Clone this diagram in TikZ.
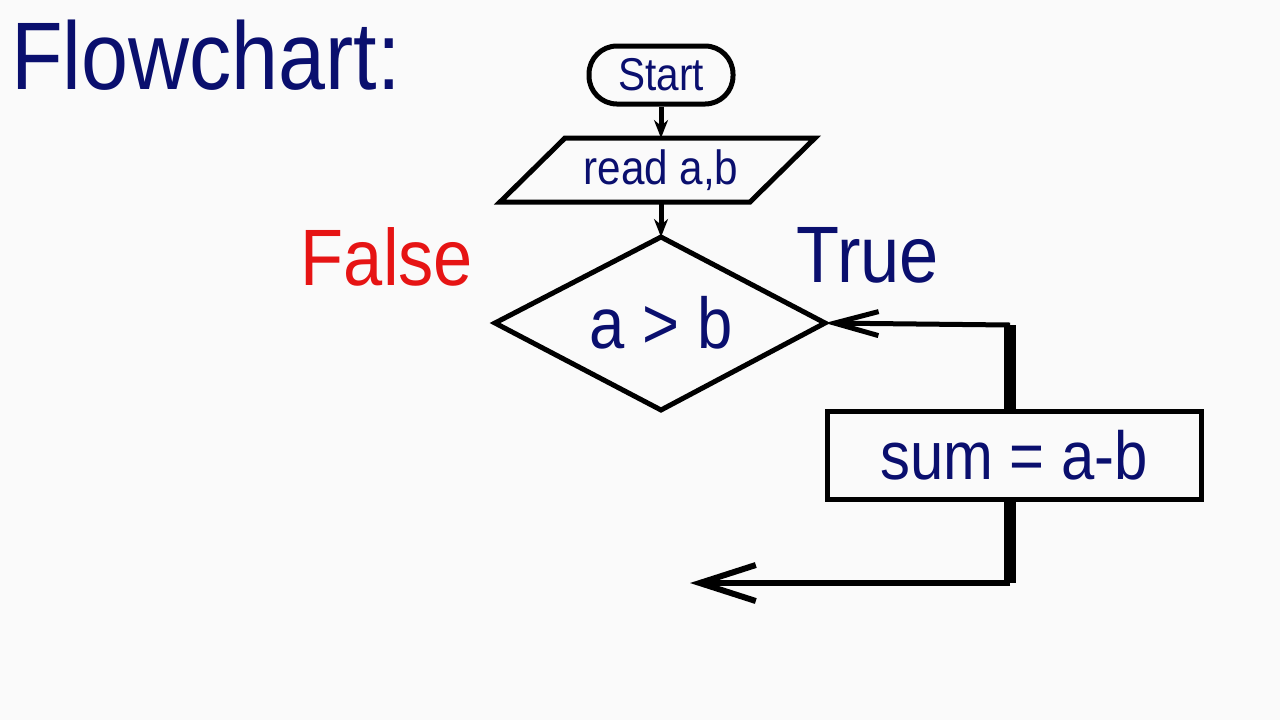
\documentclass[tikz,border=0pt]{standalone}
\usepackage{fontspec}
\setmainfont{Liberation Sans}
\usetikzlibrary{shapes.geometric,arrows.meta,positioning}
\definecolor{navy}{RGB}{10,15,110}
\definecolor{falsered}{RGB}{230,20,20}
\tikzset{
  boxline/.style={draw=black,line width=2.5pt},
  flowarrow/.style={draw=black,line width=2.5pt,-{Stealth[length=9pt,width=7pt]}},
  bigarrow/.style={draw=black,line width=3pt,-{Straight Barb[length=28pt,width=18pt]}},
  labeltext/.style={text=navy,font=\fontsize{32}{34}\selectfont}
}
\newcommand{\narrow}[1]{\scalebox{0.88}[1]{#1}}
\begin{document}
\begin{tikzpicture}[x=0.5pt,y=-0.5pt]
  \useasboundingbox[fill=white!98!black] (0,0) rectangle (1280,720);
  \node[text=navy,font=\fontsize{48}{50}\selectfont,anchor=west] (title) at (4,55) {\narrow{Flowchart:}};

  % start
  \node[boxline,rounded corners=14pt,minimum width=72pt,minimum height=29pt,
        labeltext,font=\fontsize{23}{25}\selectfont] (start) at (661,75) {\narrow{Start}};

  % read a,b
  \draw[boxline] (565,138) -- (815,138) -- (750,202) -- (500,202) -- cycle;
  \node[labeltext,font=\fontsize{24}{26}\selectfont] (read) at (661,170) {\narrow{read a,b}};
  \coordinate (readtop) at (661,138);
  \coordinate (readbot) at (661,202);

  % decision
  \draw[boxline] (661,237) -- (825,323) -- (661,410) -- (495,323) -- cycle;
  \node[labeltext,font=\fontsize{36}{38}\selectfont] (cond) at (661,323) {\narrow{a > b}};
  \coordinate (condtop) at (661,237);
  \coordinate (condright) at (825,323);

  \draw[flowarrow] (start) -- (readtop);
  \draw[flowarrow] (readbot) -- (condtop);

  \node[text=falsered,font=\fontsize{40}{42}\selectfont] (false) at (387,257) {\narrow{False}};
  \node[text=navy,font=\fontsize{40}{42}\selectfont] (true) at (868,255) {\narrow{True}};

  % sum box
  \node[boxline,minimum width=187pt,minimum height=44pt,labeltext,font=\fontsize{34}{36}\selectfont] (sum) at (1014,455) {\narrow{sum = a-b}};
  \coordinate (sumtop) at (1010,410);
  \coordinate (sumbot) at (1010,500);
  \coordinate (up) at (1010,325);
  \coordinate (down) at (1010,583);
  \coordinate (loose) at (690,583);

  \draw[line width=6pt] (sumtop) -- (up);
  \draw[bigarrow,line width=2.5pt,-{Straight Barb[length=22pt,width=12pt]}] (up) -- (condright);
  \draw[line width=6pt] (sumbot) -- (down);
  \draw[bigarrow] (down) -- (loose);
\end{tikzpicture}
\end{document}
